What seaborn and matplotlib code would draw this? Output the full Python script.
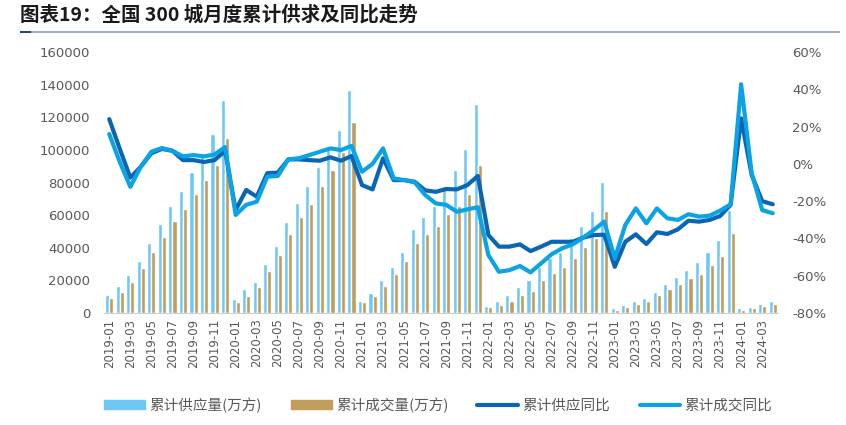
import matplotlib
matplotlib.use("Agg")
import matplotlib.pyplot as plt
from matplotlib.lines import Line2D
from matplotlib.patches import Patch
from matplotlib.ticker import FuncFormatter, MultipleLocator
import seaborn as sns
import numpy as np
import pandas as pd

# months 2019-01 .. 2024-04
months = pd.date_range("2019-01-01", periods=64, freq="MS").strftime("%Y-%m").tolist()

# cumulative supply / transaction (万方)
supply = [11000, 16500, 23000, 32000, 43000, 54500, 65500, 75000, 86500, 98000, 109500, 130500,
          8400, 14700, 19200, 30000, 41000, 55800, 67600, 77900, 89500, 101000, 112000, 137000,
          7400, 12000, 20200, 28400, 37400, 51500, 58700, 65600, 77900, 87700, 100500, 128000,
          4500, 7400, 11200, 15800, 20200, 28400, 33500, 37600, 45800, 53100, 62300, 80500,
          2900, 4700, 7400, 9200, 12900, 17600, 22100, 26400, 31100, 37400, 44800, 63100,
          2900, 3700, 5500, 7400]
deals = [9000, 13000, 19000, 27500, 37500, 46500, 56500, 64000, 73000, 81500, 90500, 107000,
         6500, 10200, 15800, 25500, 35800, 48400, 58700, 66800, 77700, 87700, 98500, 117000,
         6500, 10200, 16800, 23900, 32100, 43100, 48400, 53100, 60500, 65800, 73200, 90500,
         3700, 4900, 7600, 11200, 13700, 20200, 24700, 28400, 33900, 40500, 46200, 62300,
         1800, 3700, 5700, 7400, 11000, 14700, 17600, 21300, 23700, 29400, 34900, 49200,
         1800, 2900, 4500, 5500]

# year-on-year, %
supply_yoy = [24, 8, -7.4, -1.5, 5.7, 8, 7, 2, 2, 1, 2, 7,
              -24.8, -14, -17.6, -5, -4.7, 2.4, 2.4, 2, 1.7, 3.5, 1.7, 4.2,
              -11.4, -13.7, 3, -8.7, -8.7, -9.6, -14.2, -15, -13.5, -13.7, -11.4, -6.5,
              -38.2, -44.4, -44.4, -43.2, -46.8, -44.4, -41.8, -41.8, -41.8, -39.6, -38.2, -38,
              -55.2, -41.8, -37.8, -43, -36.7, -37.6, -35.1, -30.5, -31, -30.1, -28, -22,
              24.4, -6, -20, -21.7]
deals_yoy = [16, 1, -12.3, -1.5, 6.5, 8.5, 7, 4, 4.7, 4, 5, 9,
             -27.4, -22, -20.3, -6.9, -6.5, 2.4, 3, 4.7, 6.5, 8.3, 7.4, 9.6,
             -4.2, 0, 8.3, -7.8, -8.7, -9.9, -16.7, -21.2, -22, -25.7, -24.4, -23.3,
             -48.9, -57.9, -57, -54.8, -58.2, -53.4, -48.5, -45.3, -43.2, -39.6, -35.5, -31,
             -50.7, -32.8, -23.9, -31.9, -23.9, -29.2, -30.1, -27, -28.3, -27.8, -25.1, -21.7,
             42.7, -5, -24.8, -26.5]

bar_names = ["累计供应量(万方)", "累计成交量(万方)"]
line_names = ["累计供应同比", "累计成交同比"]
bar_colors = ["#6EC8F5", "#C09D5B"]
line_colors = ["#0A66B2", "#0AA3E4"]

sns.set_style("white")
plt.rcParams["font.family"] = ["Noto Sans CJK SC", "DejaVu Sans"]
grey = "#595959"

df = pd.DataFrame({"month": months * 2,
                   "value": supply + deals,
                   "series": [bar_names[0]] * 64 + [bar_names[1]] * 64})

fig = plt.figure(figsize=(8.46, 4.25), dpi=100)
ax = fig.add_axes([104 / 846, 1 - 313 / 425, 674 / 846, 261 / 425])

sns.barplot(data=df, x="month", y="value", hue="series", order=months,
            palette=bar_colors, saturation=1, width=0.78, legend=False, ax=ax)
ax.set_xlim(-0.5, 63.5)
ax.set_ylim(0, 160000)
ax.yaxis.set_major_locator(MultipleLocator(20000))
ax.set_xlabel("")
ax.set_ylabel("")
ax.set_xticks(range(0, 64, 2))
ax.set_xticklabels(months[::2], rotation=90, fontsize=8.5, color=grey, family="DejaVu Sans")
ax.set_xticks(np.arange(-0.5, 64, 1), minor=True)
ax.tick_params(axis="x", which="major", length=0, pad=4)
ax.tick_params(axis="x", which="minor", length=3, color="#D0D0D0", width=1)
ax.tick_params(axis="y", length=0, labelsize=9.5, labelcolor=grey, pad=10)
for lbl in ax.get_yticklabels():
    lbl.set_family("DejaVu Sans")
for s in ["top", "left", "right"]:
    ax.spines[s].set_visible(False)
ax.spines["bottom"].set_color("#D0D0D0")

ax2 = ax.twinx()
x = np.arange(64)
sns.lineplot(x=x, y=supply_yoy, color=line_colors[0], linewidth=3, ax=ax2)
sns.lineplot(x=x, y=deals_yoy, color=line_colors[1], linewidth=3, ax=ax2)
ax2.set_ylim(-80, 60)
ax2.yaxis.set_major_locator(MultipleLocator(20))
ax2.yaxis.set_major_formatter(FuncFormatter(lambda v, p: f"{v:.0f}%"))
ax2.tick_params(axis="y", length=0, labelsize=9.5, labelcolor=grey, pad=10)
for lbl in ax2.get_yticklabels():
    lbl.set_family("DejaVu Sans")
for s in ["top", "left", "right", "bottom"]:
    ax2.spines[s].set_visible(False)
ax2.set_xlim(-0.5, 63.5)

# title
fig.text(20 / 846, 1 - 15 / 425, "图表19：全国 300 城月度累计供求及同比走势",
         fontsize=14, fontweight="bold", color="#1A1A1A", va="center")

# rule under the title: a thin strip axes with a dark accent on its left end
rule = fig.add_axes([20 / 846, 1 - 33 / 425, 820 / 846, 2 / 425])
rule.set_facecolor("#9DB0C4")
rule.set_xticks([])
rule.set_yticks([])
for s in rule.spines.values():
    s.set_visible(False)
rule.set_xlim(0, 820)
rule.set_ylim(0, 1)
rule.axvspan(0, 10, color="#1F4E79")

handles = [Patch(color=bar_colors[0]), Patch(color=bar_colors[1]),
           Line2D([], [], color=line_colors[0], lw=3), Line2D([], [], color=line_colors[1], lw=3)]
fig.legend(handles, bar_names + line_names, loc="center", ncol=4,
           bbox_to_anchor=(0.518, 1 - 405 / 425), frameon=False, fontsize=10.5,
           labelcolor=grey, handlelength=2.8, handleheight=0.6, columnspacing=2.0, handletextpad=0.3)

fig.savefig("out.png", dpi=100)
